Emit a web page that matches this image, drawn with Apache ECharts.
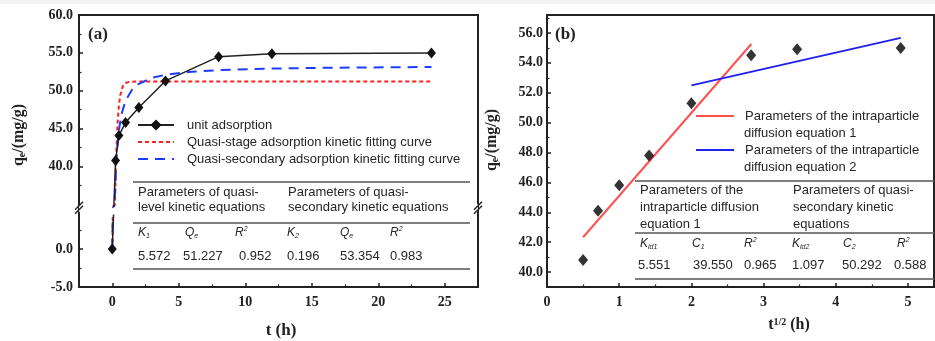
<!DOCTYPE html>
<html><head><meta charset="utf-8">
<script src="https://cdn.jsdelivr.net/npm/echarts@6/dist/echarts.min.js"></script>
<style>html,body{margin:0;padding:0;background:#fff}#c{width:935px;height:341px}</style>
</head><body><div id="c"></div>
<script>
// ---------- Panel (a) data ----------
const timeH = [0, 0.25, 0.5, 1, 2, 4, 8, 12, 24];
const unitAdsorption = [0, 40.8, 44.1, 45.8, 47.8, 51.3, 54.5, 54.9, 55.0];
const fitTimeStage = [0, 0.05, 0.1, 0.15, 0.2, 0.25, 0.3, 0.4, 0.5, 0.6, 0.8, 1.0, 1.3, 2, 24];
const quasiStage = [0, 12.45, 21.88, 29.02, 34.42, 38.51, 41.60, 45.71, 48.07, 49.42, 50.63, 51.03, 51.19, 51.22, 51.23];
const fitTimeSecondary = [0, 0.05, 0.1, 0.15, 0.2, 0.3, 0.4, 0.5, 0.7, 1, 1.5, 2, 3, 4, 6, 8, 12, 16, 24];
const quasiSecondary = [0, 18.32, 27.27, 32.58, 36.10, 40.46, 43.06, 44.79, 46.94, 48.70, 50.16, 50.92, 51.71, 52.11, 52.52, 52.72, 52.93, 53.04, 53.14];
const aXTicks = [0, 5, 10, 15, 20, 25];
const aXMinor = [2.5, 7.5, 12.5, 17.5, 22.5];
const aYTicks = [-5, 0, 40, 45, 50, 55, 60];
const aYMinor = [-2.5, 2.5, 37.5, 42.5, 47.5, 52.5, 57.5];
const aLegendNames = ['unit adsorption', 'Quasi-stage adsorption kinetic fitting curve', 'Quasi-secondary adsorption kinetic fitting curve'];
const aTableHead = [['Parameters of quasi-', 'level kinetic equations'], ['Parameters of quasi-', 'secondary kinetic equations']];
const aTableSymbols = ['{i|K}{sb|1}', '{i|Q}{sb|e}', '{i|R}{sp|2}', '{i|K}{sb|2}', '{i|Q}{sb|e}', '{i|R}{sp|2}'];
const aTableValues = ['5.572', '51.227', '0.952', '0.196', '53.354', '0.983'];

// ---------- Panel (b) data ----------
const sqrtTime = [0.5, 0.707, 1, 1.414, 2, 2.828, 3.464, 4.899];
const qtB = [40.8, 44.1, 45.8, 47.8, 51.3, 54.5, 54.9, 55.0];
const fit1X = [0.5, 2.83];
const fit1Y = [42.33, 55.26];
const fit2X = [2.0, 4.9];
const fit2Y = [52.49, 55.67];
const bXTicks = [0, 1, 2, 3, 4, 5];
const bXMinor = [0.5, 1.5, 2.5, 3.5, 4.5];
const bYTicks = [40, 42, 44, 46, 48, 50, 52, 54, 56];
const bYMinor = [41, 43, 45, 47, 49, 51, 53, 55, 57];
const bLegendNames = ['Parameters of the intraparticle diffusion equation 1', 'Parameters of the intraparticle diffusion equation 2'];
const bLegendLines = [['Parameters of the intraparticle', 'diffusion equation 1'], ['Parameters of the intraparticle', 'diffusion equation 2']];
const bTableHead = [['Parameters of the', 'intraparticle diffusion', 'equation 1'], ['Parameters of quasi-', 'secondary kinetic', 'equations']];
const bTableSymbols = ['{i|K}{sb|id1}', '{i|C}{sb|1}', '{i|R}{sp|2}', '{i|K}{sb|id2}', '{i|C}{sb|2}', '{i|R}{sp|2}'];
const bTableValues = ['5.551', '39.550', '0.965', '1.097', '50.292', '0.588'];

// ---------- styles ----------
const serif = 'Liberation Serif';
const sans = 'Liberation Sans';
const ink = '#222';
const txtInk = '#262626';
const tickLbl = {fontFamily: serif, fontWeight: 'bold', fontSize: 14, color: ink};
const axLine = {onZero: false, lineStyle: {color: ink, width: 2}};
const majorTick = v => ({inside: true, length: 4, customValues: v, lineStyle: {color: ink, width: 1.5}});
const minorTick = v => ({inside: true, length: 2.5, customValues: v, lineStyle: {color: ink, width: 1.2}});
const noSplit = {show: false};
const aBreaks = [{start: 5, end: 35, gap: '2.5%'}];
const hiddenSymbol = {color: 'rgba(0,0,0,0)', borderColor: 'rgba(0,0,0,0)', borderWidth: 0, opacity: 0};

const chart = echarts.init(document.getElementById('c'));
const legendText = {fontFamily: sans, fontSize: 13, color: txtInk, lineHeight: 14};

const option = {
  animation: false,
  backgroundColor: '#fff',
  grid: [
    {left: 79, top: 15, width: 399, height: 272, show: true, borderColor: ink, borderWidth: 2},
    {left: 547, top: 15, width: 387, height: 272, show: true, borderColor: ink, borderWidth: 2}
  ],
  xAxis: [
    {gridIndex: 0, type: 'value', min: -2.5, max: 27.5, position: 'bottom', axisLine: axLine,
     axisTick: majorTick(aXTicks), axisLabel: Object.assign({customValues: aXTicks, margin: 8}, tickLbl), splitLine: noSplit},
    {gridIndex: 0, type: 'value', min: -2.5, max: 27.5, position: 'bottom', axisLine: {show: false, onZero: false},
     axisTick: minorTick(aXMinor), axisLabel: {show: false}, splitLine: noSplit},
    {gridIndex: 1, type: 'value', min: 0, max: 5.36, position: 'bottom', axisLine: axLine,
     axisTick: majorTick(bXTicks), axisLabel: Object.assign({customValues: bXTicks, margin: 8}, tickLbl), splitLine: noSplit},
    {gridIndex: 1, type: 'value', min: 0, max: 5.36, position: 'bottom', axisLine: {show: false, onZero: false},
     axisTick: minorTick(bXMinor), axisLabel: {show: false}, splitLine: noSplit}
  ],
  yAxis: [
    {gridIndex: 0, type: 'value', min: -5, max: 60, position: 'left', breaks: aBreaks,
     breakArea: {show: true, expandOnClick: false, itemStyle: {color: '#fff', borderColor: '#fff', borderWidth: 0, opacity: 1}},
     axisLine: axLine, axisTick: majorTick(aYTicks),
     axisLabel: Object.assign({customValues: aYTicks, margin: 6, formatter: v => v.toFixed(1)}, tickLbl), splitLine: noSplit},
    {gridIndex: 0, type: 'value', min: -5, max: 60, position: 'left', breaks: aBreaks, breakArea: {show: false},
     axisLine: {show: false, onZero: false}, axisTick: minorTick(aYMinor), axisLabel: {show: false}, splitLine: noSplit},
    {gridIndex: 1, type: 'value', min: 39, max: 57.2, position: 'left', axisLine: axLine, axisTick: majorTick(bYTicks),
     axisLabel: Object.assign({customValues: bYTicks, margin: 4, formatter: v => v.toFixed(1)}, tickLbl), splitLine: noSplit},
    {gridIndex: 1, type: 'value', min: 39, max: 57.2, position: 'left', axisLine: {show: false, onZero: false},
     axisTick: minorTick(bYMinor), axisLabel: {show: false}, splitLine: noSplit}
  ],
  legend: [
    {data: [aLegendNames[0], {name: aLegendNames[1], itemStyle: hiddenSymbol}, {name: aLegendNames[2], itemStyle: hiddenSymbol}],
     orient: 'vertical', left: 137, top: 118, padding: 0, itemWidth: 36, itemHeight: 14, itemGap: 3,
     selectedMode: false, textStyle: Object.assign({padding: [0, 0, 0, 8]}, legendText)},
    {data: [{name: bLegendNames[0], itemStyle: hiddenSymbol}], left: 695, top: 109, padding: 0, itemWidth: 38, itemHeight: 14, selectedMode: false,
     formatter: () => bLegendLines[0][0], textStyle: Object.assign({padding: [0, 0, 0, 6]}, legendText)},
    {data: [{name: bLegendNames[1], itemStyle: hiddenSymbol}], left: 695, top: 143, padding: 0, itemWidth: 38, itemHeight: 14, selectedMode: false,
     formatter: () => bLegendLines[1][0], textStyle: Object.assign({padding: [0, 0, 0, 6]}, legendText)}
  ],
  series: [
    {type: 'line', name: aLegendNames[1], xAxisIndex: 0, yAxisIndex: 0, symbol: 'none',
     data: fitTimeStage.map((t, i) => [t, quasiStage[i]]),
     lineStyle: {color: '#ff1e1e', width: 2, type: [4, 3]}, itemStyle: {color: '#ff1e1e'}, z: 2},
    {type: 'line', name: aLegendNames[2], xAxisIndex: 0, yAxisIndex: 0, symbol: 'none',
     data: fitTimeSecondary.map((t, i) => [t, quasiSecondary[i]]),
     lineStyle: {color: '#1e3cff', width: 2, type: [10, 7]}, itemStyle: {color: '#1e3cff'}, z: 2},
    {type: 'line', name: aLegendNames[0], xAxisIndex: 0, yAxisIndex: 0, symbol: 'diamond', symbolSize: [9, 11],
     data: timeH.map((t, i) => [t, unitAdsorption[i]]),
     lineStyle: {color: ink, width: 1.5}, itemStyle: {color: '#111'}, z: 3},
    {type: 'line', name: bLegendNames[0], xAxisIndex: 2, yAxisIndex: 2, symbol: 'none',
     data: fit1X.map((x, i) => [x, fit1Y[i]]),
     lineStyle: {color: '#ff5050', width: 2}, itemStyle: {color: '#ff5050'}, z: 2},
    {type: 'line', name: bLegendNames[1], xAxisIndex: 2, yAxisIndex: 2, symbol: 'none',
     data: fit2X.map((x, i) => [x, fit2Y[i]]),
     lineStyle: {color: '#2020f0', width: 2}, itemStyle: {color: '#2020f0'}, z: 2},
    {type: 'scatter', name: 'qt', xAxisIndex: 2, yAxisIndex: 2, symbol: 'diamond', symbolSize: [10, 12],
     data: sqrtTime.map((x, i) => [x, qtB[i]]), itemStyle: {color: '#000'}, z: 3}
  ]
};
chart.setOption(option);

// ---------- annotations ----------
const rich = {
  i: {fontFamily: sans, fontStyle: 'italic', fontSize: 12, fill: txtInk, lineHeight: 14},
  sb: {fontFamily: sans, fontStyle: 'italic', fontSize: 7, fill: txtInk, lineHeight: 7, verticalAlign: 'bottom'},
  sp: {fontFamily: sans, fontStyle: 'italic', fontSize: 7, fill: txtInk, lineHeight: 7, verticalAlign: 'top'}
};
function txt(x, y, text, extra) {
  return {type: 'text', x: x, y: y, z: 200, zlevel: 0,
    style: Object.assign({text: text, fill: txtInk, fontFamily: sans, fontSize: 13,
      align: 'left', verticalAlign: 'middle', textAlign: 'left', textVerticalAlign: 'middle'}, extra || {})};
}
function hline(x1, x2, y, w) {
  return {type: 'line', z: 200, shape: {x1: x1, y1: y, x2: x2, y2: y}, style: {stroke: '#555', lineWidth: w || 1.5}};
}
function seg(x1, y1, x2, y2) {
  return {type: 'line', z: 200, shape: {x1: x1, y1: y1, x2: x2, y2: y2}, style: {stroke: ink, lineWidth: 1.5}};
}
const g = [];
g.push({type: 'rect', z: 0, shape: {x: 0, y: 0, width: 935, height: 4}, style: {fill: '#f2f2f2'}});
g.push(txt(88, 35, '(a)', {fontFamily: serif, fontWeight: 'bold', fontSize: 17, fill: ink}));
g.push(txt(555, 35, '(b)', {fontFamily: serif, fontWeight: 'bold', fontSize: 17, fill: ink}));
const axRich = {
  b: {fontFamily: serif, fontWeight: 'bold', fontSize: 16, fill: ink},
  sb: {fontFamily: serif, fontWeight: 'bold', fontSize: 10, fill: ink, lineHeight: 8, verticalAlign: 'bottom'},
  sp: {fontFamily: serif, fontWeight: 'bold', fontSize: 10, fill: ink, lineHeight: 8, verticalAlign: 'top'}
};
g.push(txt(281, 331, 't (h)', {fontFamily: serif, fontWeight: 'bold', fontSize: 17, fill: ink, align: 'center', textAlign: 'center'}));
g.push(txt(789, 325, '{b|t}{sp|1/2}{b| (h)}', {rich: axRich, align: 'center', textAlign: 'center'}));
const yTitle = '{b|q}{sb|e}{b|/(mg/g)}';
g.push(Object.assign(txt(0, 0, yTitle, {rich: axRich, align: 'center', textAlign: 'center'}), {x: 19, y: 135, rotation: Math.PI / 2}));
g.push(Object.assign(txt(0, 0, yTitle, {rich: axRich, align: 'center', textAlign: 'center'}), {x: 492, y: 140, rotation: Math.PI / 2}));

// break marks on the broken axis of panel (a)
const yb = (chart.convertToPixel({yAxisIndex: 0}, 5) + chart.convertToPixel({yAxisIndex: 0}, 35)) / 2;
[79, 478].forEach(function (x) {
  g.push(seg(x - 4, yb + 2, x + 4, yb - 6));
  g.push(seg(x - 4, yb + 6, x + 4, yb - 2));
});

// legend second lines (panel b)
g.push(txt(744, 133, bLegendLines[0][1]));
g.push(txt(744, 167, bLegendLines[1][1]));

// table (a)
g.push(hline(133, 470, 182));
g.push(hline(133, 470, 223));
g.push(hline(133, 470, 269));
[138, 288].forEach(function (x, c) {
  g.push(txt(x, 192, aTableHead[c][0]));
  g.push(txt(x, 207, aTableHead[c][1]));
});
const aSymX = [138, 185, 235, 287, 340, 390];
const aValX = [138, 183, 239, 287, 340, 390];
aTableSymbols.forEach(function (s, i) { g.push(txt(aSymX[i], 233, s, {rich: rich})); });
aTableValues.forEach(function (v, i) { g.push(txt(aValX[i], 256, v)); });

// table (b)
g.push(hline(635, 935, 181));
g.push(hline(635, 935, 233));
g.push(hline(635, 935, 279));
[640, 793].forEach(function (x, c) {
  g.push(txt(x, 190, bTableHead[c][0]));
  g.push(txt(x, 207, bTableHead[c][1]));
  g.push(txt(x, 224, bTableHead[c][2]));
});
const bSymX = [640, 692, 744, 792, 843, 897];
const bValX = [638, 693, 744, 792, 842, 894];
bTableSymbols.forEach(function (s, i) { g.push(txt(bSymX[i], 244, s, {rich: rich})); });
bTableValues.forEach(function (v, i) { g.push(txt(bValX[i], 265, v)); });

chart.setOption({graphic: {elements: g}});
</script>
</body></html>
